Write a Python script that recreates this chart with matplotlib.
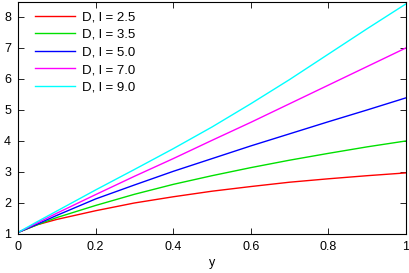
import numpy as np
import matplotlib
matplotlib.use("Agg")
import matplotlib.pyplot as plt

plt.rcParams['font.family'] = ['Liberation Sans', 'DejaVu Sans']

# valores
x = [0.0, 0.05, 0.1, 0.2, 0.3, 0.4, 0.5, 0.6, 0.7, 0.8, 0.9, 1.0]
d_25 = [1.05, 1.30, 1.47, 1.75, 2.00, 2.20, 2.38, 2.53, 2.67, 2.78, 2.88, 2.97]
d_35 = [1.05, 1.30, 1.53, 1.92, 2.28, 2.60, 2.88, 3.14, 3.38, 3.60, 3.81, 4.00]
d_50 = [1.05, 1.32, 1.60, 2.13, 2.58, 3.02, 3.43, 3.84, 4.23, 4.62, 5.00, 5.39]
d_70 = [1.05, 1.36, 1.67, 2.27, 2.86, 3.43, 4.02, 4.60, 5.20, 5.80, 6.40, 7.00]
d_90 = [1.05, 1.40, 1.74, 2.42, 3.08, 3.75, 4.45, 5.20, 5.98, 6.80, 7.62, 8.42]

etiquetas = ["D, l = 2.5", "D, l = 3.5", "D, l = 5.0", "D, l = 7.0", "D, l = 9.0"]
colores = ["#ff0000", "#00e000", "#0000ff", "#ff00ff", "#00ffff"]
series = [d_25, d_35, d_50, d_70, d_90]

fig = plt.figure(figsize=(4.09, 2.73), dpi=100)
ax = fig.add_axes([18/409, 1 - 234/273, 388/409, 232/273])

for y, c, lab in zip(series, colores, etiquetas):
    ax.plot(x, y, color=c, lw=1.0, label=lab)

ax.set_xlim(0, 1)
ax.set_ylim(1, 8.48)
ax.set_xticks([0, 0.2, 0.4, 0.6, 0.8, 1])
ax.set_xticklabels(["0", "0.2", "0.4", "0.6", "0.8", "1"])
ax.set_yticks(range(1, 9))
ax.tick_params(direction="in", top=True, right=True, length=4, width=0.6,
               labelsize=9, pad=5)
for s in ax.spines.values():
    s.set_linewidth(0.8)
ax.set_xlabel("y", fontsize=9, labelpad=3)

leg = ax.legend(loc="upper left", frameon=False, fontsize=9.5, handlelength=3.0,
                handletextpad=0.6, labelspacing=0.4, borderaxespad=0.3,
                bbox_to_anchor=(0.02, 1.0))

fig.savefig("out.png", dpi=100)
